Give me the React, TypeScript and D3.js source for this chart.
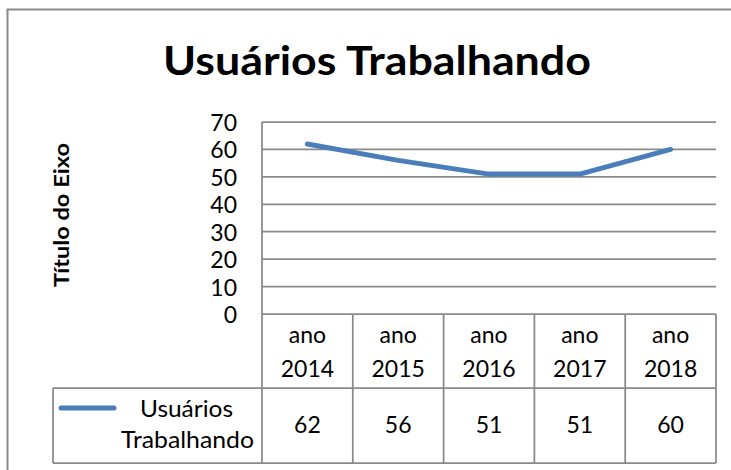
import React from "react";
import * as d3 from "d3";

const categories = ["ano 2014", "ano 2015", "ano 2016", "ano 2017", "ano 2018"];
const seriesName = "Usuários Trabalhando";
const values = [62, 56, 51, 51, 60];
const yTicks = [0, 10, 20, 30, 40, 50, 60, 70];
const title = "Usuários Trabalhando";
const yAxisTitle = "Título do Eixo";

const W = 731;
const H = 470;
const FONT = "Lato, 'Open Sans', sans-serif";
const GRID = "#8a8a8a";
const BLUE = "#4a7ebb";

export default function App() {
  const left = 262;
  const right = 716;
  const top = 122;
  const bottom = 314;
  const x = d3.scaleBand<string>().domain(categories).range([left, right]);
  const y = d3.scaleLinear().domain([0, 70]).range([bottom, top]);
  const line = d3
    .line<number>()
    .x((_, i) => (x(categories[i]) as number) + x.bandwidth() / 2)
    .y((d) => y(d));

  const headerBottom = 388;
  const tableBottom = 463;
  const legendLeft = 53;
  const sw = 1.75;
  const [nm1, nm2] = seriesName.split(" ");

  return (
    <svg
      width={W}
      height={H}
      style={{ position: "absolute", left: 0, top: 0, background: "#fff" }}
      fontFamily={FONT}
    >
      <rect x={0} y={0} width={W} height={H} fill="#fff" />
      <rect x={7.5} y={9.5} width={W + 20} height={H + 20} fill="none" stroke={GRID} strokeWidth={2} />
      <text x={377} y={75} textAnchor="middle" fontSize={40} fontWeight="bold" textLength={428} lengthAdjust="spacingAndGlyphs">
        {title}
      </text>
      <text
        transform={`translate(69,215) rotate(-90)`}
        textAnchor="middle"
        fontSize={21}
        fontWeight="bold"
        textLength={144}
        lengthAdjust="spacingAndGlyphs"
      >
        {yAxisTitle}
      </text>
      {yTicks.map((t) => (
        <g key={t}>
          {t > 0 && (
            <line x1={left} x2={right} y1={y(t)} y2={y(t)} stroke={GRID} strokeWidth={sw} />
          )}
          <text x={237} y={y(t) + 9} textAnchor="end" fontSize={23}>
            {t}
          </text>
        </g>
      ))}
      {/* data table */}
      <line x1={left} x2={left} y1={top} y2={tableBottom} stroke={GRID} strokeWidth={sw} />
      <line x1={left} x2={right} y1={bottom} y2={bottom} stroke={GRID} strokeWidth={sw} />
      <line x1={legendLeft} x2={right} y1={headerBottom} y2={headerBottom} stroke={GRID} strokeWidth={sw} />
      <line x1={legendLeft} x2={right} y1={tableBottom} y2={tableBottom} stroke={GRID} strokeWidth={sw} />
      <line x1={legendLeft} x2={legendLeft} y1={headerBottom} y2={tableBottom} stroke={GRID} strokeWidth={sw} />
      {categories.map((c) => {
        const x1 = (x(c) as number) + x.bandwidth();
        return <line key={c} x1={x1} x2={x1} y1={bottom} y2={tableBottom} stroke={GRID} strokeWidth={sw} />;
      })}
      {categories.map((c, i) => {
        const cx = (x(c) as number) + x.bandwidth() / 2;
        const [a, b] = c.split(" ");
        return (
          <g key={c}>
            <text x={cx} y={343} textAnchor="middle" fontSize={23}>{a}</text>
            <text x={cx} y={377} textAnchor="middle" fontSize={23}>{b}</text>
            <text x={cx} y={433} textAnchor="middle" fontSize={23}>{values[i]}</text>
          </g>
        );
      })}
      <line x1={61} x2={114} y1={408} y2={408} stroke={BLUE} strokeWidth={5} strokeLinecap="round" />
      <text x={186.5} y={417} textAnchor="middle" fontSize={23} textLength={93} lengthAdjust="spacingAndGlyphs">{nm1}</text>
      <text x={187.5} y={448} textAnchor="middle" fontSize={23} textLength={133} lengthAdjust="spacingAndGlyphs">{nm2}</text>
      <path d={line(values) || ""} fill="none" stroke={BLUE} strokeWidth={5} strokeLinecap="round" strokeLinejoin="round" />
    </svg>
  );
}
